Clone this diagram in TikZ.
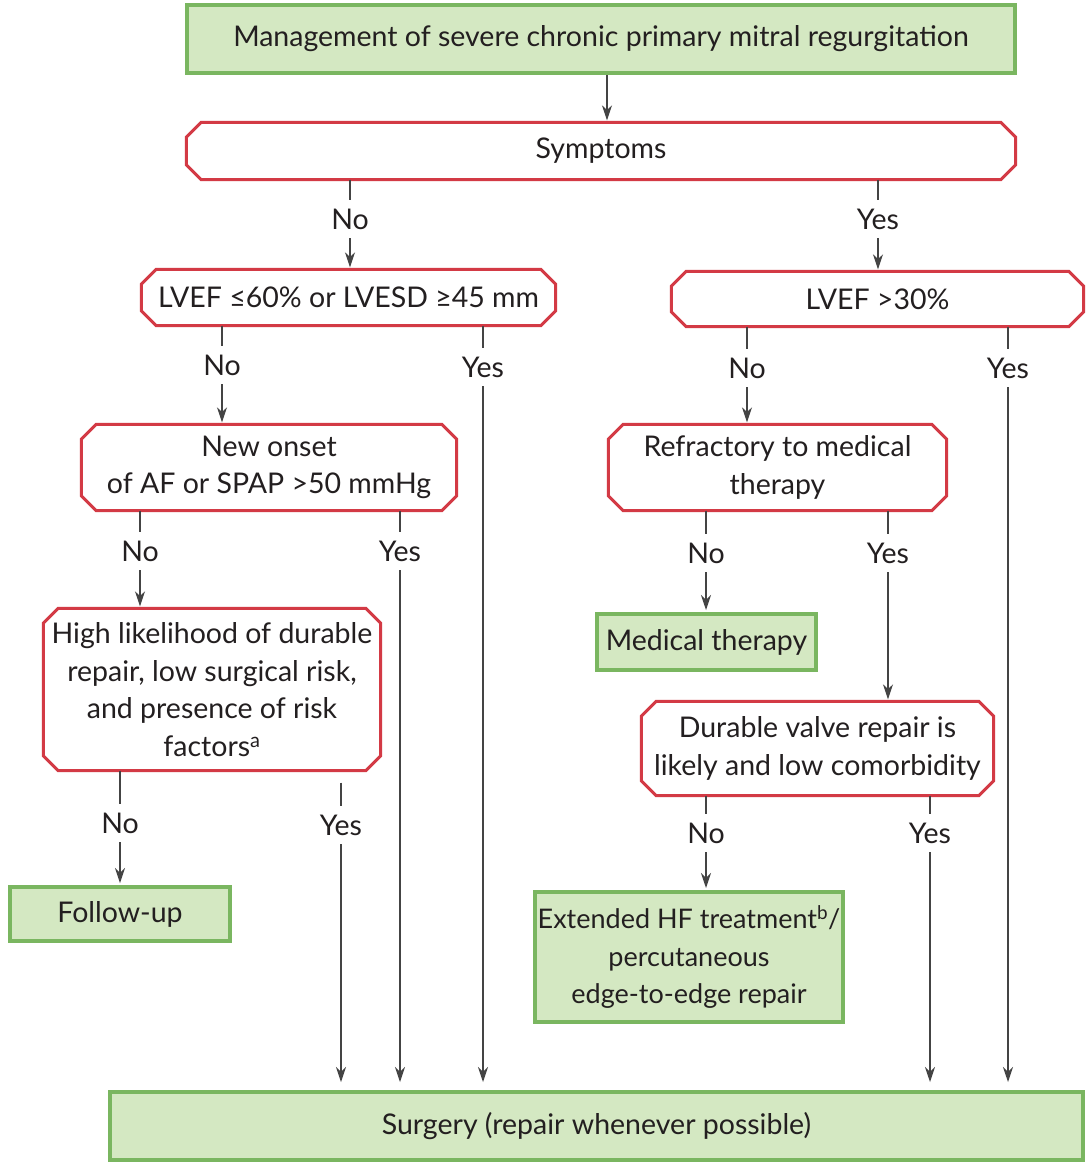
\documentclass[tikz,border=0pt]{standalone}
\usepackage{fontspec}
\setmainfont{Lato}
\usetikzlibrary{calc,arrows.meta}
\definecolor{redc}{HTML}{D33A45}
\definecolor{greenc}{HTML}{7AB660}
\definecolor{greenf}{HTML}{D4E8C2}
\definecolor{txt}{HTML}{231F20}
\definecolor{linec}{HTML}{444444}
\tikzset{
  base/.style={inner sep=0pt, align=center, font=\fontsize{28.5}{37.5}\selectfont, text=txt},
  gbox/.style={base, draw=greenc, line width=4pt, fill=greenf},
  rbox/.style={base},
  redline/.style={draw=redc, line width=3pt, line join=miter},
  lab/.style={base, minimum height=38pt, text height=20pt, text depth=0pt},
  ln/.style={draw=linec, line width=1.2pt},
  arr/.style={ln, -{Stealth[length=15pt,width=10pt]}, shorten >=2pt},
  sarr/.style={ln, -{Stealth[length=15pt,width=10pt]}, shorten >=8pt}
}
\newcommand\octo[1]{\draw[redline] ($(#1.north west)+(15pt,0pt)$) -- ($(#1.north east)+(-15pt,0pt)$) -- ($(#1.north east)+(0pt,-15pt)$) -- ($(#1.south east)+(0pt,15pt)$) -- ($(#1.south east)+(-15pt,0pt)$) -- ($(#1.south west)+(15pt,0pt)$) -- ($(#1.south west)+(0pt,15pt)$) -- ($(#1.north west)+(0pt,-15pt)$) -- cycle;}
\begin{document}
\begin{tikzpicture}[x=1pt,y=-1pt]
\useasboundingbox[fill=white] (0,0) rectangle (1089,1168);
% boxes
\node[gbox, minimum width=828pt, minimum height=68pt] (title) at (601,39) {Management of severe chronic primary mitral regurgitation};
\node[rbox, minimum width=829pt, minimum height=57pt] (sym) at (601,151) {Symptoms};
\node[rbox, minimum width=414pt, minimum height=56pt] (lv60) at (348.5,297.5) {LVEF ≤60\% or LVESD ≥45 mm};
\node[rbox, minimum width=412pt, minimum height=55pt] (lv30) at (877.5,299) {LVEF >30\%};
\node[rbox, minimum width=375pt, minimum height=86pt] (newon) at (269,467.5) {New onset\\of AF or SPAP >50 mmHg};
\node[rbox, minimum width=338pt, minimum height=86pt] (refr) at (777.5,467.5) {Refractory to medical\\therapy};
\node[gbox, minimum width=219pt, minimum height=56pt] (med) at (706.5,642) {Medical therapy};
\node[rbox, minimum width=337pt, minimum height=162pt] (high) at (212,689.5) {High likelihood of durable\\repair, low surgical risk,\\and presence of risk\\factors\textsuperscript{a}};
\node[rbox, minimum width=352pt, minimum height=94pt] (dur) at (817.5,748.5) {Durable valve repair is\\likely and low comorbidity};
\node[gbox, minimum width=220pt, minimum height=54pt] (fu) at (120,914) {Follow-up};
\node[gbox, minimum width=308pt, minimum height=130pt, font=\fontsize{27}{37.5}\selectfont] (ext) at (689,957) {Extended HF treatment\textsuperscript{b}/\\percutaneous\\edge-to-edge repair};
\node[gbox, minimum width=973pt, minimum height=68pt] (surg) at (596.5,1126) {Surgery (repair whenever possible)};
\octo{sym}\octo{lv60}\octo{lv30}\octo{newon}\octo{refr}\octo{high}\octo{dur}
% labels
\node[lab] (n1) at (350,219) {No};
\node[lab] (y1) at (878,219) {Yes};
\node[lab] (n2) at (222,365) {No};
\node[lab] (y2) at (483,367) {Yes};
\node[lab] (n3) at (747,368) {No};
\node[lab] (y3) at (1008,368) {Yes};
\node[lab] (n4) at (140,551) {No};
\node[lab] (y4) at (400,551) {Yes};
\node[lab] (n5) at (706,553) {No};
\node[lab] (y5) at (888,553) {Yes};
\node[lab] (n6) at (120,823) {No};
\node[lab] (y6) at (341,825) {Yes};
\node[lab] (n7) at (706,833) {No};
\node[lab] (y7) at (930,833) {Yes};
% connectors
\draw[arr] ([xshift=6pt]title.south) -- ([xshift=6pt]sym.north);
\draw[ln] (sym.south -| n1) -- (n1.north);
\draw[arr] (n1.south) -- (lv60.north -| n1);
\draw[ln] (sym.south -| y1) -- (y1.north);
\draw[arr] (y1.south) -- (lv30.north -| y1);
\draw[ln] (lv60.south -| n2) -- (n2.north);
\draw[arr] (n2.south) -- (newon.north -| n2);
\draw[ln] (lv60.south -| y2) -- (y2.north);
\draw[sarr] (y2.south) -- (surg.north -| y2);
\draw[ln] (lv30.south -| n3) -- (n3.north);
\draw[arr] (n3.south) -- (refr.north -| n3);
\draw[ln] (lv30.south -| y3) -- (y3.north);
\draw[sarr] (y3.south) -- (surg.north -| y3);
\draw[ln] (newon.south -| n4) -- (n4.north);
\draw[arr] (n4.south) -- (high.north -| n4);
\draw[ln] (newon.south -| y4) -- (y4.north);
\draw[sarr] (y4.south) -- (surg.north -| y4);
\draw[ln] (refr.south -| n5) -- (n5.north);
\draw[arr] (n5.south) -- (med.north -| n5);
\draw[ln] (refr.south -| y5) -- (y5.north);
\draw[arr] (y5.south) -- (dur.north -| y5);
\draw[ln] (high.south -| n6) -- (n6.north);
\draw[arr] (n6.south) -- (fu.north -| n6);
\draw[ln, shorten <=12pt] (high.south -| y6) -- (y6.north);
\draw[sarr] (y6.south) -- (surg.north -| y6);
\draw[ln] (dur.south -| n7) -- (n7.north);
\draw[arr] (n7.south) -- (ext.north -| n7);
\draw[ln] (dur.south -| y7) -- (y7.north);
\draw[sarr] (y7.south) -- (surg.north -| y7);
\end{tikzpicture}
\end{document}
